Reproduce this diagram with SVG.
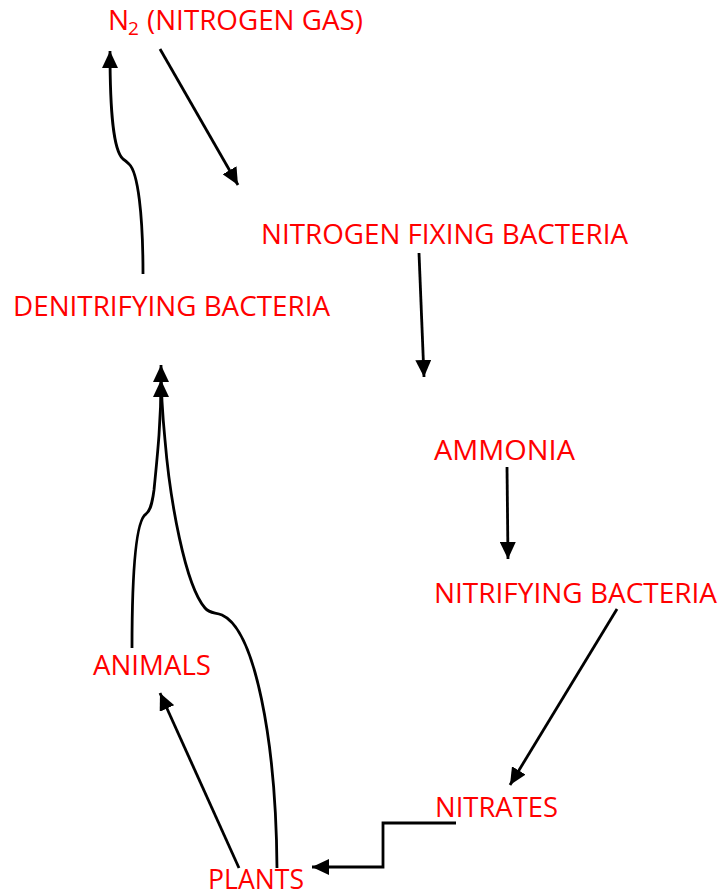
<svg xmlns="http://www.w3.org/2000/svg" width="722" height="896" viewBox="0 0 722 896">
<style>
.lbl{font-family:"Open Sans","Noto Sans",sans-serif;font-size:28px;fill:#FF0000}
.sub{font-size:19px}
.c{fill:none;stroke:#000;stroke-width:2.8;marker-end:url(#ah)}
</style>
<defs>
<marker id="ah" markerUnits="userSpaceOnUse" markerWidth="18" markerHeight="16" viewBox="0 0 18 16" refX="17" refY="8" orient="auto">
<path d="M0,0 L17,8 L0,16 z" fill="#000"/>
</marker>
</defs>
<rect width="722" height="896" fill="#fff"/>
<g id="n2"><text class="lbl" x="108" y="30">N<tspan class="sub" x="128" dy="5">2</tspan><tspan x="147" dy="-5" textLength="216" lengthAdjust="spacingAndGlyphs">(NITROGEN GAS)</tspan></text></g>
<g id="nfb"><text class="lbl" x="261" y="244" textLength="367" lengthAdjust="spacingAndGlyphs">NITROGEN FIXING BACTERIA</text></g>
<g id="denit"><text class="lbl" x="13" y="316" textLength="317" lengthAdjust="spacingAndGlyphs">DENITRIFYING BACTERIA</text></g>
<g id="ammonia"><text class="lbl" x="434" y="460" textLength="141" lengthAdjust="spacingAndGlyphs">AMMONIA</text></g>
<g id="nitrif"><text class="lbl" x="434" y="603" textLength="283" lengthAdjust="spacingAndGlyphs">NITRIFYING BACTERIA</text></g>
<g id="animals"><text class="lbl" x="93" y="675" textLength="118" lengthAdjust="spacingAndGlyphs">ANIMALS</text></g>
<g id="nitrates"><text class="lbl" x="435" y="817" textLength="123" lengthAdjust="spacingAndGlyphs">NITRATES</text></g>
<g id="plants"><text class="lbl" x="208" y="889" textLength="96" lengthAdjust="spacingAndGlyphs">PLANTS</text></g>
<g id="connectors">
<path class="c" d="M160,49 L238,185"/>
<path class="c" d="M419,253 L424,377"/>
<path class="c" d="M507,467 L508,559"/>
<path class="c" d="M617,609 L510,785"/>
<path class="c" d="M456,823 L383,823 L383,867 L312,867"/>
<path class="c" d="M239,868 L160,693"/>
<path class="c" d="M143,274 C143,215 138,172 129,164 Q126,161 123,159 C113,150 110,110 110,51"/>
<path class="c" d="M132,648 C132,570 136,520 146,514 C150,511 152,505 154,490 C158,450 161,420 161,380"/>
<path class="c" d="M277,868 C276,740 255,630 222,615 C215,612 210,614 205,608 C185,585 170,500 165,440 C162,410 161,390 161,365"/>
</g>
</svg>
